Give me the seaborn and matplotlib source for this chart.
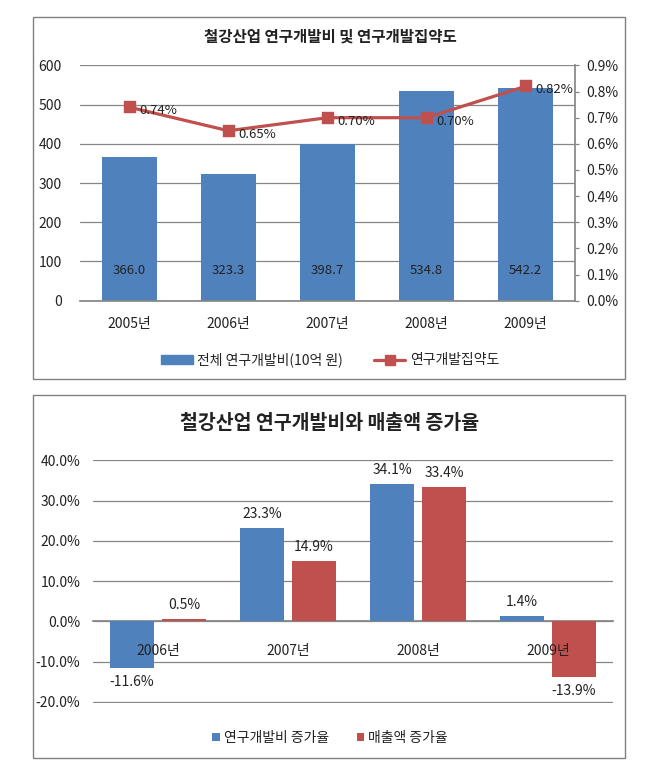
import pandas as pd
import matplotlib
matplotlib.use("Agg")
import matplotlib.pyplot as plt
import seaborn as sns
from matplotlib.patches import Rectangle, Patch
from matplotlib.lines import Line2D
from matplotlib.ticker import MultipleLocator, FormatStrFormatter

sns.set_theme(style="white")
plt.rcParams["font.family"] = ["Noto Sans CJK KR", "DejaVu Sans"]

# dados do gráfico superior
anos_sup = ["2005년", "2006년", "2007년", "2008년", "2009년"]
gasto_rd = [366.0, 323.3, 398.7, 534.8, 542.2]
intensidade_rd = [0.74, 0.65, 0.70, 0.70, 0.82]

# dados do gráfico inferior
anos_inf = ["2006년", "2007년", "2008년", "2009년"]
cresc_rd = [-11.6, 23.3, 34.1, 1.4]
cresc_vendas = [0.5, 14.9, 33.4, -13.9]
series_inf = ["연구개발비 증가율", "매출액 증가율"]

AZUL = "#4F81BD"
VERMELHO = "#C0504D"
GRADE = "#868686"
TEXTO = "#222222"
W, H = 662, 776


def caixa_px(x0, y0, x1, y1):
    """Converte uma caixa em pixels (origem no topo) para fração da figura."""
    return [x0 / W, 1 - y1 / H, (x1 - x0) / W, (y1 - y0) / H]


fig = plt.figure(figsize=(W / 100, H / 100), dpi=100)

# molduras dos dois gráficos
for caixa in [(33, 17, 625, 379), (33, 395, 625, 758)]:
    l, b, w, h = caixa_px(*caixa)
    fig.patches.append(Rectangle((l, b), w, h, transform=fig.transFigure,
                                 fill=False, edgecolor="#808080", lw=1))

# ---------- gráfico superior ----------
ax1 = fig.add_axes(caixa_px(80, 65, 575, 300.7))
sns.barplot(x=anos_sup, y=gasto_rd, color=AZUL, saturation=1, width=0.56,
            linewidth=0, ax=ax1)
ax1.set_xlim(-0.5, len(anos_sup) - 0.5)
ax1.set_ylim(0, 601)
ax1.yaxis.set_major_locator(MultipleLocator(100))
ax1.grid(axis="y", color=GRADE, lw=0.9)
ax1.set_axisbelow(True)
for lado in ["left", "top", "right"]:
    ax1.spines[lado].set_visible(False)
ax1.spines["bottom"].set_color(GRADE)
ax1.tick_params(axis="y", length=0, pad=13, labelsize=10, labelcolor=TEXTO)
ax1.tick_params(axis="x", length=0, pad=12, labelsize=10, labelcolor=TEXTO)
ax1.set_xlabel("")
ax1.set_ylabel("")
for i, v in enumerate(gasto_rd):
    ax1.text(i, 78, f"{v:.1f}", ha="center", va="center", fontsize=9.5, color=TEXTO)

ax2 = ax1.twinx()
sns.pointplot(x=anos_sup, y=intensidade_rd, color=VERMELHO, markers="s",
              errorbar=None, markersize=6.5, linewidth=2.3, ax=ax2)
ax2.set_xlim(-0.5, len(anos_sup) - 0.5)
ax2.set_ylim(0, 0.9015)
ax2.yaxis.set_major_locator(MultipleLocator(0.1))
ax2.yaxis.set_major_formatter(FormatStrFormatter("%.1f%%"))
ax2.grid(False)
for lado in ["left", "top", "bottom"]:
    ax2.spines[lado].set_visible(False)
ax2.spines["right"].set_color(GRADE)
ax2.tick_params(axis="y", direction="out", length=3, width=0.9, color=GRADE,
                pad=5, labelsize=10, labelcolor=TEXTO)
ax2.set_xlabel("")
ax2.set_ylabel("")
for i, v in enumerate(intensidade_rd):
    ax2.annotate(f"{v:.2f}%", (i, v), xytext=(7, -2.5), textcoords="offset points",
                 ha="left", va="center", fontsize=9.5, color=TEXTO)

fig.text(330 / W, 1 - 37 / H, "철강산업 연구개발비 및 연구개발집약도",
         ha="center", va="center", fontsize=11.2, fontweight="bold", color=TEXTO)

fig.legend(handles=[Patch(color=AZUL, label="전체 연구개발비(10억 원)"),
                    Line2D([], [], color=VERMELHO, lw=2.3, marker="s", ms=6.5,
                           label="연구개발집약도")],
           loc="center", bbox_to_anchor=(330 / W, 1 - 360 / H), ncol=2,
           frameon=False, fontsize=10, handlelength=2.3, handletextpad=0.3,
           columnspacing=2.2, labelcolor=TEXTO)

# ---------- gráfico inferior ----------
df_inf = pd.DataFrame({
    "ano": anos_inf * 2,
    "valor": cresc_rd + cresc_vendas,
    "serie": [series_inf[0]] * len(anos_inf) + [series_inf[1]] * len(anos_inf),
})

ax3 = fig.add_axes(caixa_px(93, 460, 613, 703))
sns.barplot(data=df_inf, x="ano", y="valor", hue="serie", palette=[AZUL, VERMELHO],
            saturation=1, width=0.8, gap=0.17, linewidth=0, ax=ax3)
ax3.set_xlim(-0.5, len(anos_inf) - 0.5)
ax3.set_ylim(-20.3, 40.1)
ax3.yaxis.set_major_locator(MultipleLocator(10))
ax3.yaxis.set_major_formatter(FormatStrFormatter("%.1f%%"))
ax3.grid(axis="y", color=GRADE, lw=0.9)
ax3.set_axisbelow(True)
ax3.xaxis.set_zorder(3)
for lado in ["left", "top", "right"]:
    ax3.spines[lado].set_visible(False)
ax3.spines["bottom"].set_position(("data", 0))
ax3.spines["bottom"].set_color(GRADE)
ax3.spines["bottom"].set_zorder(0.6)
ax3.tick_params(axis="y", length=0, pad=9, labelsize=10, labelcolor=TEXTO)
ax3.tick_params(axis="x", length=0, pad=16, labelsize=10, labelcolor=TEXTO)
ax3.set_xlabel("")
ax3.set_ylabel("")
for cont in ax3.containers:
    ax3.bar_label(cont, fmt="%.1f%%", padding=5, fontsize=10, color=TEXTO)

sns.move_legend(ax3, "center", bbox_to_anchor=(330 / W, 1 - 738 / H),
                bbox_transform=fig.transFigure, ncol=2, frameon=False, title=None,
                fontsize=10, handlelength=0.55, handleheight=0.55,
                handletextpad=0.3, columnspacing=2.0, labelcolor=TEXTO)

fig.text(330 / W, 1 - 424 / H, "철강산업 연구개발비와 매출액 증가율",
         ha="center", va="center", fontsize=14, fontweight="bold", color=TEXTO)

fig.savefig("out.png", dpi=100)
